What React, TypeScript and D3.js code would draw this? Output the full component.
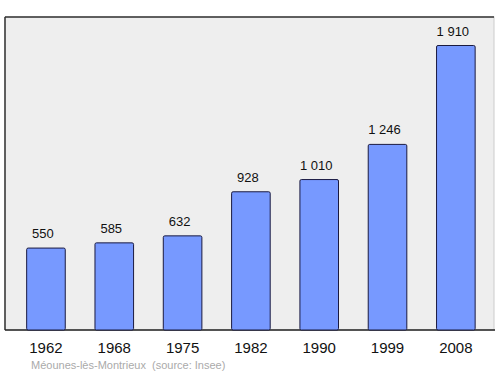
import React from 'react'
import * as d3 from 'd3'

const years = ['1962', '1968', '1975', '1982', '1990', '1999', '2008']
const population = [550, 585, 632, 928, 1010, 1246, 1910]
const valueLabels = ['550', '585', '632', '928', '1 010', '1 246', '1 910']
const town = 'Méounes-lès-Montrieux'
const source = '(source: Insee)'

const W = 500
const H = 374
const panel = { left: 5, top: 17, right: 494, bottom: 330 }

export default function App() {
    // échelle des années (bandes)
    const x = d3.scaleBand<string>()
        .domain(years)
        .range([11.8, 490])
        .paddingInner(0.435)
        .paddingOuter(0.2175)

    // échelle des valeurs
    const y = d3.scaleLinear()
        .domain([0, 1910])
        .range([panel.bottom, 45.5])

    const font = '"Liberation Sans", Arial, sans-serif'

    return (
        <svg width={W} height={H} style={{ position: 'absolute', left: 0, top: 0 }}>
            <rect x={0} y={0} width={W} height={H} fill='#ffffff' />
            <rect x={panel.left} y={panel.top} width={panel.right - panel.left} height={panel.bottom - panel.top}
                fill='#eeeeee' stroke='#cccccc' strokeWidth={1} />
            <line x1={panel.left} x2={panel.right} y1={panel.top} y2={panel.top} stroke='#333' strokeWidth={1.5} />
            <line x1={panel.left} x2={panel.left} y1={panel.top} y2={panel.bottom} stroke='#333' strokeWidth={1.5} />
            <line x1={panel.left} x2={panel.right + 1} y1={panel.bottom} y2={panel.bottom} stroke='#222' strokeWidth={1.5} />
            {population.map((d, i) => (
                <g key={years[i]}>
                    <rect x={x(years[i])} y={y(d)} width={x.bandwidth()} height={panel.bottom - y(d)}
                        rx={1.5} fill='#7799ff' stroke='#1a1a40' strokeWidth={1} />
                    <text x={(x(years[i]) as number) + x.bandwidth() / 2 - 3} y={y(d) - 10}
                        textAnchor='middle' fontFamily={font} fontSize={13} fill='#111'>
                        {valueLabels[i]}
                    </text>
                    <text x={(x(years[i]) as number) + x.bandwidth() / 2} y={352.5}
                        textAnchor='middle' fontFamily={font} fontSize={15} fill='#111'>
                        {years[i]}
                    </text>
                </g>
            ))}
            <text x={31} y={369} fontFamily={font} fontSize={11} fill='#aaaaaa'>{town}</text>
            <text x={152} y={369} fontFamily={font} fontSize={11} fill='#aaaaaa'>{source}</text>
        </svg>
    )
}
